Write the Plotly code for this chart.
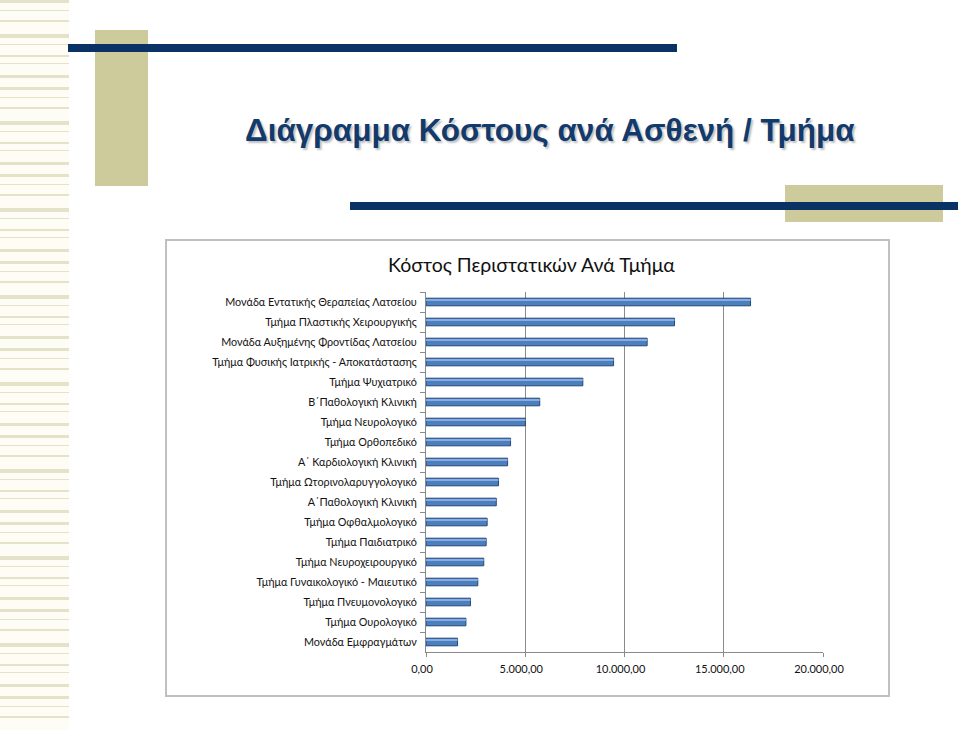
import plotly.graph_objects as go

W, H = 960, 730

departments = [
    "Μονάδα Εντατικής Θεραπείας Λατσείου",
    "Τμήμα Πλαστικής Χειρουργικής",
    "Μονάδα Αυξημένης Φροντίδας Λατσείου",
    "Τμήμα Φυσικής Ιατρικής - Αποκατάστασης",
    "Τμήμα Ψυχιατρικό",
    "Β΄Παθολογική Κλινική",
    "Τμήμα Νευρολογικό",
    "Τμήμα Ορθοπεδικό",
    "Α΄ Καρδιολογική Κλινική",
    "Τμήμα Ωτορινολαρυγγολογικό",
    "Α΄Παθολογική Κλινική",
    "Τμήμα Οφθαλμολογικό",
    "Τμήμα Παιδιατρικό",
    "Τμήμα Νευροχειρουργικό",
    "Τμήμα Γυναικολογικό - Μαιευτικό",
    "Τμήμα Πνευμονολογικό",
    "Τμήμα Ουρολογικό",
    "Μονάδα Εμφραγμάτων",
]
costs = [16350, 12520, 11140, 9450, 7900, 5730, 5010, 4260, 4110,
         3650, 3540, 3080, 3030, 2910, 2610, 2240, 2010, 1590]

tick_values = [0, 5000, 10000, 15000, 20000]
tick_labels = ["0,00", "5.000,00", "10.000,00", "15.000,00", "20.000,00"]

main_title = "Διάγραμμα Κόστους ανά Ασθενή / Τμήμα"
chart_title = "Κόστος Περιστατικών Ανά Τμήμα"

FONT = "Lato, Open Sans, sans-serif"


def px(x):
    return x / W


def py(y):
    return 1 - y / H


fig = go.Figure()
fig.add_trace(go.Bar(
    x=costs, y=departments, orientation="h",
    width=0.38,
    marker=dict(color="#4b7fbd", line=dict(color="#244677", width=1)),
    hoverinfo="x+y", showlegend=False,
))
fig.add_trace(go.Bar(
    x=costs, y=departments, orientation="h",
    width=0.1, offset=-0.15,
    marker=dict(color="#86ace0", line=dict(width=0)),
    hoverinfo="skip", showlegend=False,
))

shapes = []
# left striped band
shapes.append(dict(type="rect", xref="paper", yref="paper",
                   x0=0, x1=px(69), y0=0, y1=1,
                   fillcolor="#fdfdf6", line=dict(width=0), layer="below"))
y = 0
pattern = [(3, 7), (1, 9), (2, 12), (4, 6), (1, 10), (2, 6), (1, 11), (3, 9)]
i = 0
while y < H:
    th, gap = pattern[i % len(pattern)]
    shapes.append(dict(type="rect", xref="paper", yref="paper",
                       x0=0, x1=px(69), y0=py(y + th), y1=py(y),
                       fillcolor="#e4e3ca", line=dict(width=0), layer="below"))
    y += th + gap
    i += 1

# decorative blocks
shapes += [
    dict(type="rect", xref="paper", yref="paper", x0=px(95), x1=px(148),
         y0=py(186), y1=py(30), fillcolor="#cdcb9b", line=dict(width=0), layer="below"),
    dict(type="rect", xref="paper", yref="paper", x0=px(68), x1=px(677),
         y0=py(52), y1=py(44), fillcolor="#0b3264", line=dict(width=0), layer="below"),
    dict(type="rect", xref="paper", yref="paper", x0=px(785), x1=px(943),
         y0=py(222), y1=py(185), fillcolor="#cdcb9b", line=dict(width=0), layer="below"),
    dict(type="rect", xref="paper", yref="paper", x0=px(350), x1=px(958),
         y0=py(210), y1=py(202), fillcolor="#0b3264", line=dict(width=0), layer="below"),
    # chart frame
    dict(type="rect", xref="paper", yref="paper", x0=px(166), x1=px(889),
         y0=py(696), y1=py(240), fillcolor="rgba(0,0,0,0)",
         line=dict(color="#c0c0c0", width=2), layer="below"),
]

annotations = [
    dict(text=main_title, xref="paper", yref="paper", x=px(550), y=py(130),
         xanchor="center", yanchor="middle", showarrow=False,
         font=dict(family="Liberation Sans, Arial, sans-serif", size=31.5,
                   color="#123a6d", weight="bold",
                   shadow="2px 2px 2px rgba(0,0,0,0.25)")),
    dict(text=chart_title, xref="paper", yref="paper", x=px(531), y=py(264),
         xanchor="center", yanchor="middle", showarrow=False,
         font=dict(family=FONT, size=19.5, color="#111111")),
]

fig.update_layout(
    template="none",
    width=W, height=H,
    margin=dict(l=0, r=0, t=0, b=0, pad=0, autoexpand=False),
    paper_bgcolor="white", plot_bgcolor="rgba(0,0,0,0)",
    barmode="overlay",
    shapes=shapes, annotations=annotations,
    xaxis=dict(domain=[px(426), px(823)], range=[0, 20000], automargin=False,
               tickvals=tick_values, ticktext=tick_labels,
               showgrid=True, gridcolor="#8a8a8a", gridwidth=1,
               showline=True, linecolor="#8a8a8a", linewidth=1,
               ticks="outside", ticklen=4, tickcolor="#8a8a8a",
               zeroline=False, ticklabelshift=-4, ticklabelstandoff=3,
               tickfont=dict(family=FONT, size=11, color="#111111")),
    yaxis=dict(domain=[py(652), py(292)], autorange="reversed", automargin=False,
               categoryorder="array", categoryarray=departments,
               showline=True, linecolor="#8a8a8a", linewidth=1,
               ticks="outside", ticklen=5, tickcolor="#8a8a8a",
               tickson="boundaries", showgrid=False, zeroline=False,
               ticklabelstandoff=6,
               tickfont=dict(family=FONT, size=10.8, color="#111111")),
)

fig.write_html("out.html")
